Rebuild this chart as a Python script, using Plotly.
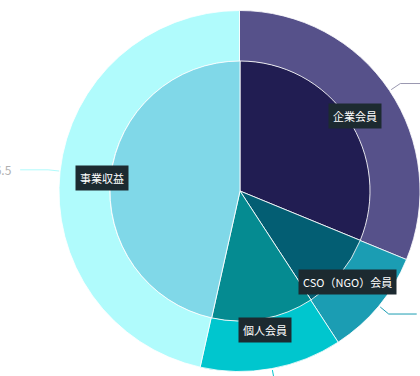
import math
import plotly.graph_objects as go

categories = ["企業会員", "CSO（NGO）会員", "個人会員", "事業収益"]
values = [31.2, 9.6, 12.7, 46.5]
outer_colors = ["#56518a", "#1b9db3", "#00c6ce", "#b0fbfc"]
inner_colors = ["#211d52", "#035e73", "#058b91", "#80d8e8"]
outer_text = [f"{v}" for v in values]

W, H = 420, 376
CX, CY = 240, 191
R_OUT, R_IN = 181, 130


def dom(r):
    return dict(x=[(CX - r) / W, min(1.0, (CX + r) / W)],
                y=[(H - CY - r) / H, (H - CY + r) / H])


fig = go.Figure()
fig.add_trace(go.Pie(
    labels=categories, values=values, sort=False, direction="clockwise",
    rotation=0, hole=R_IN / R_OUT, domain=dom(R_OUT),
    marker=dict(colors=outer_colors, line=dict(color="rgba(255,255,255,0.8)", width=1)),
    textinfo="none", hoverinfo="label+value", showlegend=False))
fig.add_trace(go.Pie(
    labels=categories, values=values, sort=False, direction="clockwise",
    rotation=0, domain=dom(R_IN),
    marker=dict(colors=inner_colors, line=dict(color="rgba(255,255,255,0.85)", width=1)),
    textinfo="none", hoverinfo="label+value", showlegend=False))


def to_paper(px, py):
    return px / W, (H - py) / H


total = sum(values)
start = 0.0
shapes, annotations = [], []
for cat, v, oc, txt in zip(categories, values, outer_colors, outer_text):
    mid = (start + v / 2) / total * 2 * math.pi
    start += v
    s, c = math.sin(mid), math.cos(mid)
    # inner label box
    lx, ly = CX + 139 * s, CY - 139 * c + 2
    x, y = to_paper(lx, ly)
    annotations.append(dict(x=x, y=y, xref="paper", yref="paper", text=cat,
                            xanchor="center", yanchor="middle",
                            showarrow=False, bgcolor="#1c2a30", borderpad=4,
                            font=dict(color="#ffffff", size=11,
                                      family="Noto Sans CJK JP")))
    # outer leader line
    x0, y0 = CX + (R_OUT + 1) * s, CY - (R_OUT + 1) * c
    x1, y1 = CX + (R_OUT + 12) * s, CY - (R_OUT + 12) * c
    dx = 28 if s >= 0 else -28
    x2, y2 = x1 + dx, y1
    lc = oc if v != values[0] else "#9a98b0"
    for (a, b, cc, d) in [(x0, y0, x1, y1), (x1, y1, x2, y2)]:
        pa, pb = to_paper(a, b)
        pc, pd = to_paper(cc, d)
        shapes.append(dict(type="line", xref="paper", yref="paper",
                           x0=pa, y0=pb, x1=pc, y1=pd,
                           line=dict(color=lc, width=1)))
    if s < 0:
        tx, ty = to_paper(x2 - 6, y2)
        annotations.append(dict(x=tx, y=ty, xref="paper", yref="paper", text=txt,
                                showarrow=False, xanchor="right", yanchor="middle",
                                font=dict(color="#b0b0b0", size=12,
                                          family="Noto Sans CJK JP")))

fig.update_layout(width=W, height=H, margin=dict(l=0, r=0, t=0, b=0),
                  paper_bgcolor="#ffffff", plot_bgcolor="#ffffff",
                  shapes=shapes, annotations=annotations)
fig.write_html("out.html")
